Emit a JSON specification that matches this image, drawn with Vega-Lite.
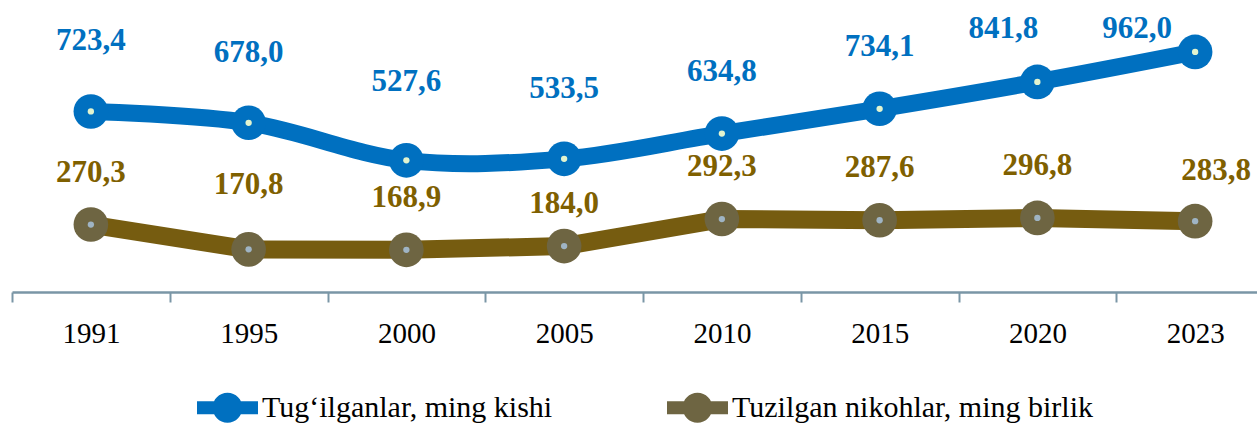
{
  "$schema": "https://vega.github.io/schema/vega-lite/v6.json",
  "width": 1245,
  "height": 291,
  "autosize": {"type": "none"},
  "padding": {"left": 12, "top": 1, "right": 0, "bottom": 131},
  "background": "white",
  "config": {
    "view": {"stroke": null},
    "locale": {"number": {"decimal": ",", "thousands": " ", "grouping": [3], "currency": ["", ""]}}
  },
  "data": {
    "values": [
      {"year": "1991", "series": "Tug‘ilganlar, ming kishi", "value": 723.4},
      {"year": "1995", "series": "Tug‘ilganlar, ming kishi", "value": 678.0},
      {"year": "2000", "series": "Tug‘ilganlar, ming kishi", "value": 527.6},
      {"year": "2005", "series": "Tug‘ilganlar, ming kishi", "value": 533.5},
      {"year": "2010", "series": "Tug‘ilganlar, ming kishi", "value": 634.8},
      {"year": "2015", "series": "Tug‘ilganlar, ming kishi", "value": 734.1},
      {"year": "2020", "series": "Tug‘ilganlar, ming kishi", "value": 841.8},
      {"year": "2023", "series": "Tug‘ilganlar, ming kishi", "value": 962.0},
      {"year": "1991", "series": "Tuzilgan nikohlar, ming birlik", "value": 270.3},
      {"year": "1995", "series": "Tuzilgan nikohlar, ming birlik", "value": 170.8},
      {"year": "2000", "series": "Tuzilgan nikohlar, ming birlik", "value": 168.9},
      {"year": "2005", "series": "Tuzilgan nikohlar, ming birlik", "value": 184.0},
      {"year": "2010", "series": "Tuzilgan nikohlar, ming birlik", "value": 292.3},
      {"year": "2015", "series": "Tuzilgan nikohlar, ming birlik", "value": 287.6},
      {"year": "2020", "series": "Tuzilgan nikohlar, ming birlik", "value": 296.8},
      {"year": "2023", "series": "Tuzilgan nikohlar, ming birlik", "value": 283.8}
    ]
  },
  "encoding": {
    "x": {
      "field": "year",
      "type": "ordinal",
      "sort": null,
      "scale": {"type": "band", "range": [0, 1262], "paddingInner": 0, "paddingOuter": 0},
      "axis": {
        "title": null,
        "labelAngle": 0,
        "labelFont": "Liberation Serif",
        "labelFontSize": 29,
        "labelColor": "#000000",
        "labelPadding": 17,
        "tickBand": "extent",
        "tickSize": 10,
        "tickWidth": 2,
        "tickColor": "#7A96A6",
        "domainColor": "#7A96A6",
        "domainWidth": 2.5,
        "grid": false
      }
    },
    "y": {
      "field": "value",
      "type": "quantitative",
      "scale": {"domain": [0, 1166], "nice": false, "zero": true},
      "axis": null
    }
  },
  "layer": [
    {
      "transform": [{"filter": "datum.series === 'Tug‘ilganlar, ming kishi'"}],
      "mark": {"type": "line", "color": "#0070C0", "strokeWidth": 17, "interpolate": "cardinal"}
    },
    {
      "transform": [{"filter": "datum.series === 'Tuzilgan nikohlar, ming birlik'"}],
      "mark": {"type": "line", "color": "#765C10", "strokeWidth": 18, "interpolate": "linear", "strokeJoin": "round"}
    },
    {
      "mark": {"type": "point", "shape": "circle", "filled": true, "size": 1200, "opacity": 1, "strokeWidth": 0},
      "encoding": {
        "fill": {
          "field": "series",
          "type": "nominal",
          "scale": {"domain": ["Tug‘ilganlar, ming kishi", "Tuzilgan nikohlar, ming birlik"], "range": ["#0070C0", "#6E6542"]},
          "legend": {
            "title": null,
            "orient": "none",
            "direction": "horizontal",
            "legendX": 185,
            "legendY": 376,
            "symbolType": "M-1,-0.21 H1 V0.21 H-1 Z M0.49,0 A0.49,0.49 0 1,1 -0.49,0 A0.49,0.49 0 1,1 0.49,0 Z",
            "symbolSize": 3721,
            "symbolStrokeWidth": 0,
            "symbolOpacity": 1,
            "labelFont": "Liberation Serif",
            "labelFontSize": 30,
            "labelColor": "#000000",
            "labelOffset": 4,
            "labelLimit": 600,
            "columnPadding": 114
          }
        }
      }
    },
    {
      "transform": [{"filter": "datum.series === 'Tug‘ilganlar, ming kishi'"}],
      "mark": {"type": "point", "shape": "circle", "filled": true, "size": 40, "color": "#E2F4CF", "opacity": 1}
    },
    {
      "transform": [{"filter": "datum.series === 'Tuzilgan nikohlar, ming birlik'"}],
      "mark": {"type": "point", "shape": "circle", "filled": true, "size": 40, "color": "#9FB4C4", "opacity": 1}
    },
    {
      "transform": [{"filter": "datum.series === 'Tug‘ilganlar, ming kishi' && indexof(['1991','1995','2005'], datum.year) >= 0"}],
      "mark": {"type": "text", "font": "Liberation Serif", "fontWeight": "bold", "fontSize": 31, "color": "#0070C0", "baseline": "middle", "dy": -70},
      "encoding": {"text": {"field": "value", "type": "quantitative", "format": ".1f"}}
    },
    {
      "transform": [{"filter": "datum.series === 'Tug‘ilganlar, ming kishi' && datum.year === '2000'"}],
      "mark": {"type": "text", "font": "Liberation Serif", "fontWeight": "bold", "fontSize": 31, "color": "#0070C0", "baseline": "middle", "dy": -78},
      "encoding": {"text": {"field": "value", "type": "quantitative", "format": ".1f"}}
    },
    {
      "transform": [{"filter": "datum.series === 'Tug‘ilganlar, ming kishi' && indexof(['2010','2015'], datum.year) >= 0"}],
      "mark": {"type": "text", "font": "Liberation Serif", "fontWeight": "bold", "fontSize": 31, "color": "#0070C0", "baseline": "middle", "dy": -62},
      "encoding": {"text": {"field": "value", "type": "quantitative", "format": ".1f"}}
    },
    {
      "transform": [{"filter": "datum.series === 'Tug‘ilganlar, ming kishi' && datum.year === '2020'"}],
      "mark": {"type": "text", "font": "Liberation Serif", "fontWeight": "bold", "fontSize": 31, "color": "#0070C0", "baseline": "middle", "dx": -34, "dy": -53},
      "encoding": {"text": {"field": "value", "type": "quantitative", "format": ".1f"}}
    },
    {
      "transform": [{"filter": "datum.series === 'Tug‘ilganlar, ming kishi' && datum.year === '2023'"}],
      "mark": {"type": "text", "font": "Liberation Serif", "fontWeight": "bold", "fontSize": 31, "color": "#0070C0", "baseline": "middle", "dx": -58, "dy": -23},
      "encoding": {"text": {"field": "value", "type": "quantitative", "format": ".1f"}}
    },
    {
      "transform": [{"filter": "datum.series === 'Tuzilgan nikohlar, ming birlik' && indexof(['1991','2000','2010','2015','2020'], datum.year) >= 0"}],
      "mark": {"type": "text", "font": "Liberation Serif", "fontWeight": "bold", "fontSize": 31, "color": "#7F6000", "baseline": "middle", "dy": -52},
      "encoding": {"text": {"field": "value", "type": "quantitative", "format": ".1f"}}
    },
    {
      "transform": [{"filter": "datum.series === 'Tuzilgan nikohlar, ming birlik' && datum.year === '1995'"}],
      "mark": {"type": "text", "font": "Liberation Serif", "fontWeight": "bold", "fontSize": 31, "color": "#7F6000", "baseline": "middle", "dy": -64},
      "encoding": {"text": {"field": "value", "type": "quantitative", "format": ".1f"}}
    },
    {
      "transform": [{"filter": "datum.series === 'Tuzilgan nikohlar, ming birlik' && datum.year === '2005'"}],
      "mark": {"type": "text", "font": "Liberation Serif", "fontWeight": "bold", "fontSize": 31, "color": "#7F6000", "baseline": "middle", "dy": -42},
      "encoding": {"text": {"field": "value", "type": "quantitative", "format": ".1f"}}
    },
    {
      "transform": [{"filter": "datum.series === 'Tuzilgan nikohlar, ming birlik' && datum.year === '2023'"}],
      "mark": {"type": "text", "font": "Liberation Serif", "fontWeight": "bold", "fontSize": 31, "color": "#7F6000", "baseline": "middle", "dx": 21, "dy": -50},
      "encoding": {"text": {"field": "value", "type": "quantitative", "format": ".1f"}}
    }
  ]
}
